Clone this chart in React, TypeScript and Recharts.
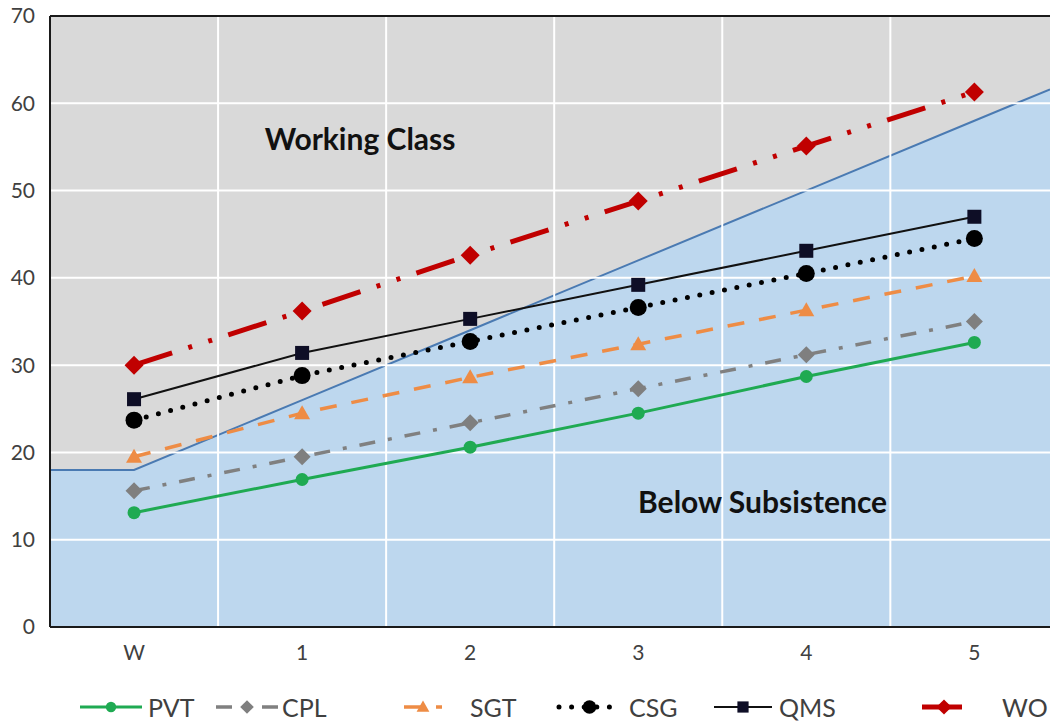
import React from "react";
import {
  ComposedChart,
  Line,
  Area,
  XAxis,
  YAxis,
  CartesianGrid,
  ReferenceLine,
  ReferenceDot,
} from "recharts";

const categories = ["W", "1", "2", "3", "4", "5"];
const pvt = [13.1, 16.9, 20.6, 24.5, 28.7, 32.6];
const cpl = [15.6, 19.5, 23.4, 27.3, 31.2, 35.0];
const sgt = [19.5, 24.5, 28.6, 32.4, 36.3, 40.2];
const csg = [23.7, 28.8, 32.7, 36.6, 40.5, 44.5];
const qms = [26.1, 31.4, 35.3, 39.2, 43.1, 47.0];
const wo = [30.0, 36.2, 42.6, 48.8, 55.1, 61.3];

// subsistence line: flat from the left edge, then rising to the cropped right edge
const boundaryX = [-0.5, 0, 1, 2, 3, 4, 5, 5.45];
const boundary = [18, 18, 26, 34, 42, 50, 58, 61.6];

const yTicks = [0, 10, 20, 30, 40, 50, 60, 70];
const hGrid = [10, 20, 30, 40, 50, 60];
const vGrid = [0.5, 1.5, 2.5, 3.5, 4.5];

const FONT = "Lato, 'Open Sans', sans-serif";

const data = boundaryX.map((x, i) => {
  const row: Record<string, number | undefined> = { x, boundary: boundary[i] };
  if (Number.isInteger(x) && x >= 0 && x <= 5) {
    row.PVT = pvt[x];
    row.CPL = cpl[x];
    row.SGT = sgt[x];
    row.CSG = csg[x];
    row.QMS = qms[x];
    row.WO = wo[x];
  }
  return row;
});

type Shape = "circle" | "diamond" | "triangle" | "square";

interface SeriesStyle {
  key: string;
  color: string;
  markerColor: string;
  width: number;
  dash?: string;
  cap?: "round" | "butt";
  shape: Shape;
  size: number;
}

const series: SeriesStyle[] = [
  { key: "PVT", color: "#1faa52", markerColor: "#1faa52", width: 3, shape: "circle", size: 6.5 },
  { key: "CPL", color: "#808080", markerColor: "#7f7f7f", width: 3.5, dash: "16 13 4 13", shape: "diamond", size: 8.5 },
  { key: "SGT", color: "#ee8c45", markerColor: "#ee8c45", width: 3.5, dash: "17 15", shape: "triangle", size: 8 },
  { key: "CSG", color: "#000000", markerColor: "#000000", width: 5, dash: "0 12.6", cap: "round", shape: "circle", size: 8.5 },
  { key: "QMS", color: "#111111", markerColor: "#0e0e26", width: 2, shape: "square", size: 7 },
  { key: "WO", color: "#c00000", markerColor: "#c00000", width: 5, dash: "40 17 4 17 4 17", shape: "diamond", size: 9.5 },
];

function marker(shape: Shape, cx: number, cy: number, s: number, color: string, key?: string | number) {
  if (shape === "circle") return <circle key={key} cx={cx} cy={cy} r={s} fill={color} />;
  if (shape === "square")
    return <rect key={key} x={cx - s} y={cy - s} width={s * 2} height={s * 2} fill={color} />;
  if (shape === "triangle")
    return (
      <polygon
        key={key}
        points={`${cx},${cy - s} ${cx + s},${cy + s * 0.75} ${cx - s},${cy + s * 0.75}`}
        fill={color}
      />
    );
  return (
    <polygon
      key={key}
      points={`${cx},${cy - s} ${cx + s},${cy} ${cx},${cy + s} ${cx - s},${cy}`}
      fill={color}
    />
  );
}

// legend layout: symbol start/end and label x, as in the reference
const legendLayout = [
  { x1: 80, x2: 142, tx: 148 },
  { x1: 216, x2: 278, tx: 282 },
  { x1: 404, x2: 442, tx: 470 },
  { x1: 559, x2: 620, tx: 629 },
  { x1: 714, x2: 772, tx: 779 },
  { x1: 922, x2: 966, tx: 1002 },
];

function Legend() {
  const cy = 707;
  return (
    <svg width={1050} height={723} style={{ position: "absolute", left: 0, top: 0, pointerEvents: "none" }}>
      {series.map((s, i) => {
        const l = legendLayout[i];
        const mid = (l.x1 + l.x2) / 2;
        return (
          <g key={s.key}>
            <line
              x1={l.x1}
              x2={l.x2}
              y1={cy}
              y2={cy}
              stroke={s.color}
              strokeWidth={s.width}
              strokeDasharray={s.dash}
              strokeLinecap={s.cap ?? "butt"}
            />
            {marker(s.shape, mid, cy, s.size * 0.8, s.markerColor)}
            <text x={l.tx} y={cy} dominantBaseline="central" fontSize={25} fill="#404040" fontFamily={FONT}>
              {s.key}
            </text>
          </g>
        );
      })}
    </svg>
  );
}

export default function App() {
  return (
    <div style={{ position: "relative", width: 1050, height: 723, background: "#fff", overflow: "hidden" }}>
      <style>{`body{margin:0}`}</style>
      <ComposedChart width={1050} height={677} data={data} margin={{ top: 16, right: 0, left: 0, bottom: 0 }}>
        <CartesianGrid horizontal={false} vertical={false} fill="#d9d9d9" fillOpacity={1} />
        <XAxis
          dataKey="x"
          type="number"
          domain={[-0.5, 5.45]}
          ticks={[0, 1, 2, 3, 4, 5]}
          tickFormatter={(v: number) => categories[v] ?? ""}
          allowDataOverflow
          height={50}
          axisLine={{ stroke: "#1a1a1a", strokeWidth: 2 }}
          tickLine={false}
          tickSize={0}
          tickMargin={18}
          fontSize={21}
          fontFamily={FONT}
          tick={{ fontSize: 21, fill: "#404040", fontFamily: FONT }}
        />
        <YAxis
          type="number"
          domain={[0, 70]}
          ticks={yTicks}
          width={50}
          axisLine={{ stroke: "#1a1a1a", strokeWidth: 2 }}
          tickLine={false}
          tickSize={0}
          tickMargin={15}
          fontSize={21}
          fontFamily={FONT}
          tick={{ fontSize: 21, fill: "#404040", fontFamily: FONT }}
        />
        <Area
          dataKey="boundary"
          type="linear"
          fill="#bdd7ee"
          fillOpacity={1}
          stroke="#4a7ab2"
          strokeWidth={2}
          isAnimationActive={false}
          dot={false}
          activeDot={false}
        />
        {hGrid.map((v) => (
          <ReferenceLine key={`h${v}`} y={v} stroke="#ffffff" strokeWidth={2} />
        ))}
        {vGrid.map((v) => (
          <ReferenceLine key={`v${v}`} x={v} stroke="#ffffff" strokeWidth={2} />
        ))}
        <ReferenceLine y={70} stroke="#1a1a1a" strokeWidth={2} />
        <ReferenceDot
          x={1.345}
          y={55.9}
          r={0}
          fill="none"
          stroke="none"
          label={{ value: "Working Class", position: "center", fontSize: 30, fontWeight: 700, fill: "#111", fontFamily: FONT }}
        />
        <ReferenceDot
          x={3.74}
          y={14.3}
          r={0}
          fill="none"
          stroke="none"
          label={{ value: "Below Subsistence", position: "center", fontSize: 30, fontWeight: 700, fill: "#111", fontFamily: FONT }}
        />
        {series.map((s) => (
          <Line
            key={s.key}
            dataKey={s.key}
            type="linear"
            stroke={s.color}
            strokeWidth={s.width}
            strokeDasharray={s.dash}
            strokeLinecap={s.cap ?? "butt"}
            isAnimationActive={false}
            activeDot={false}
            dot={(p: any) =>
              p.cx == null || p.cy == null || p.value == null
                ? <g key={p.index} />
                : marker(s.shape, p.cx, p.cy, s.size, s.markerColor, p.index)
            }
          />
        ))}
      </ComposedChart>
      <Legend />
    </div>
  );
}
